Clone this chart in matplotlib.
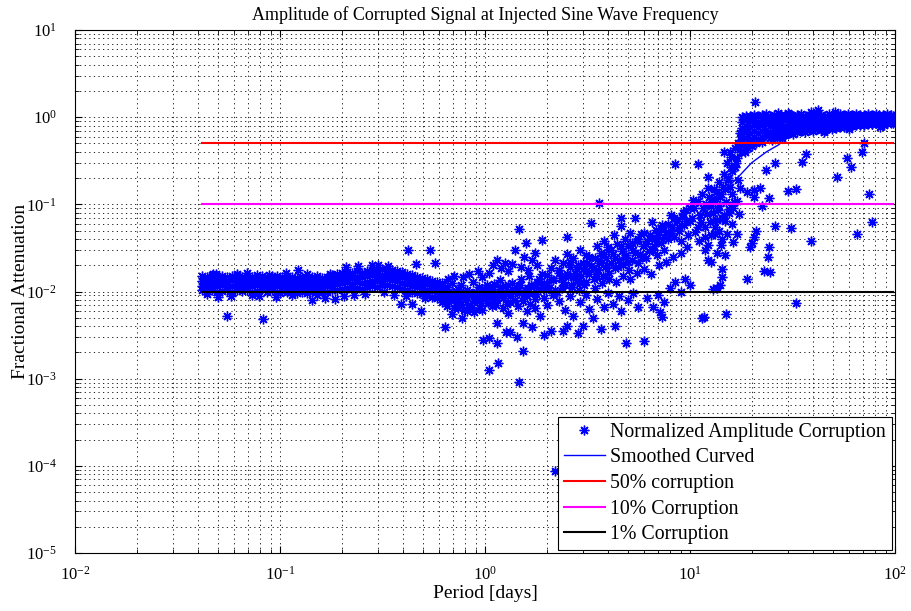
import numpy as np
import matplotlib
matplotlib.use('Agg')
import matplotlib.pyplot as plt

# ---- data ----
# dense low band (short periods), one period list with four amplitude rows
band_period = [0.0417, 0.0441, 0.0466, 0.0493, 0.0522, 0.0552, 0.0584, 0.0618, 0.0653, 0.0691,
               0.0731, 0.0773, 0.0818, 0.0865, 0.0915, 0.0968, 0.1024, 0.1083, 0.1146, 0.1212,
               0.1282, 0.1356, 0.1435, 0.1518, 0.1605, 0.1698, 0.1796, 0.1900, 0.2010, 0.2126,
               0.2249, 0.2379, 0.2517, 0.2662, 0.2816, 0.2979, 0.3151, 0.3333, 0.3526, 0.3730,
               0.3946, 0.4174, 0.4415, 0.4670, 0.4940, 0.5226, 0.5528, 0.5848, 0.6186]
band_low = [0.0103, 0.0101, 0.0104, 0.0100, 0.0102, 0.0105, 0.0099, 0.0103, 0.0101, 0.0104,
            0.0100, 0.0102, 0.0106, 0.0100, 0.0103, 0.0099, 0.0102, 0.0098, 0.0101, 0.0097,
            0.0100, 0.0096, 0.0099, 0.0102, 0.0098, 0.0100, 0.0103, 0.0105, 0.0107, 0.0110,
            0.0106, 0.0111, 0.0108, 0.0112, 0.0115, 0.0113, 0.0118, 0.0120, 0.0117, 0.0114,
            0.0108, 0.0103, 0.0100, 0.0097, 0.0094, 0.0090, 0.0086, 0.0084, 0.0082]
band_midlow = [0.0117, 0.0115, 0.0119, 0.0116, 0.0118, 0.0114, 0.0117, 0.0120, 0.0116, 0.0118,
               0.0115, 0.0119, 0.0117, 0.0114, 0.0118, 0.0116, 0.0113, 0.0112, 0.0115, 0.0111,
               0.0114, 0.0110, 0.0113, 0.0116, 0.0112, 0.0115, 0.0118, 0.0121, 0.0124, 0.0127,
               0.0123, 0.0129, 0.0126, 0.0130, 0.0133, 0.0131, 0.0136, 0.0138, 0.0135, 0.0132,
               0.0126, 0.0121, 0.0117, 0.0113, 0.0110, 0.0105, 0.0101, 0.0098, 0.0096]
band_midhigh = [0.0133, 0.0131, 0.0136, 0.0132, 0.0135, 0.0130, 0.0134, 0.0137, 0.0132, 0.0135,
                0.0131, 0.0136, 0.0133, 0.0130, 0.0134, 0.0132, 0.0129, 0.0127, 0.0130, 0.0126,
                0.0129, 0.0125, 0.0128, 0.0132, 0.0127, 0.0131, 0.0135, 0.0139, 0.0143, 0.0146,
                0.0142, 0.0148, 0.0145, 0.0150, 0.0153, 0.0150, 0.0156, 0.0158, 0.0155, 0.0151,
                0.0145, 0.0139, 0.0134, 0.0130, 0.0126, 0.0121, 0.0117, 0.0113, 0.0110]
band_high = [0.0150, 0.0147, 0.0153, 0.0149, 0.0152, 0.0146, 0.0151, 0.0155, 0.0148, 0.0152,
             0.0147, 0.0154, 0.0150, 0.0146, 0.0151, 0.0149, 0.0145, 0.0143, 0.0147, 0.0142,
             0.0146, 0.0141, 0.0145, 0.0149, 0.0144, 0.0148, 0.0153, 0.0158, 0.0163, 0.0167,
             0.0161, 0.0170, 0.0165, 0.0172, 0.0176, 0.0171, 0.0179, 0.0182, 0.0177, 0.0172,
             0.0166, 0.0159, 0.0153, 0.0148, 0.0143, 0.0138, 0.0133, 0.0129, 0.0125]

# outliers around the low band
edge_period = [0.0490, 0.0690, 0.1070, 0.1230, 0.0550, 0.0830, 0.0500, 0.0580, 0.0790, 0.0960,
               0.0440, 0.1430, 0.1520, 0.1650, 0.1850, 0.2050, 0.2100, 0.2400, 0.2800, 0.3000,
               0.3350, 0.4200, 0.5400, 0.3900, 0.4900, 0.4400, 0.3600, 0.2600, 0.4600, 0.5700,
               0.0620, 0.0880, 0.1350, 0.1750, 0.0730, 0.1150, 0.2300, 0.3200, 0.4100, 0.5100,
               0.1000, 0.0470]
edge_amp = [0.0160, 0.0164, 0.0164, 0.0177, 0.0053, 0.0049, 0.0086, 0.0088, 0.0089, 0.0087,
            0.0093, 0.0079, 0.0090, 0.0085, 0.0082, 0.0089, 0.0190, 0.0194, 0.0199, 0.0203,
            0.0196, 0.0300, 0.0300, 0.0072, 0.0059, 0.0071, 0.0090, 0.0094, 0.0205, 0.0215,
            0.0157, 0.0156, 0.0158, 0.0160, 0.0092, 0.0091, 0.0092, 0.0098, 0.0088, 0.0085,
            0.0095, 0.0157]

# scattered points, 0.6 - 2 days
mid1_period = [0.63, 0.63, 0.65, 0.66, 0.68, 0.69, 0.70, 0.72, 0.73, 0.75, 0.76, 0.78, 0.80, 0.82,
               0.83, 0.85, 0.87, 0.88, 0.90, 0.92, 0.94, 0.96, 0.98, 1.00, 1.02, 1.04, 1.06, 1.08,
               1.10, 1.12, 1.15, 1.18, 1.20, 1.22, 1.25, 1.28, 1.30, 1.33, 1.36, 1.40, 1.43, 1.46,
               1.50, 1.53, 1.57, 1.60, 1.64, 1.68, 1.72, 1.76, 1.80, 1.85,
               0.66, 0.71, 0.78, 0.84, 0.92, 0.97, 1.05, 1.10, 1.14, 1.20, 1.25, 1.30, 1.35, 1.40,
               1.46, 1.50, 1.55, 1.58, 1.62, 1.70, 1.75, 1.80, 1.90,
               0.64, 0.69, 0.74, 0.77, 0.82, 0.88, 0.95, 0.98, 1.05, 1.05, 1.14, 1.15, 1.16, 1.27,
               1.30, 1.33, 1.43, 1.46, 1.53, 1.53, 1.60, 1.70, 1.75, 1.85, 1.93]
mid1_amp = [0.0098, 0.0086, 0.0112, 0.0079, 0.0093, 0.0125, 0.0084, 0.0101, 0.0074, 0.0089,
            0.0118, 0.0096, 0.0081, 0.0105, 0.0070, 0.0090, 0.0128, 0.0078, 0.0099, 0.0086,
            0.0112, 0.0073, 0.0094, 0.0082, 0.0120, 0.0100, 0.0088, 0.0068, 0.0108, 0.0092,
            0.0079, 0.0134, 0.0097, 0.0085, 0.0115, 0.0072, 0.0102, 0.0089, 0.0125, 0.0080,
            0.0110, 0.0095, 0.0140, 0.0078, 0.0105, 0.0088, 0.0150, 0.0118, 0.0096, 0.0082,
            0.0130, 0.0106,
            0.0140, 0.0150, 0.0145, 0.0160, 0.0170, 0.0148, 0.0165, 0.0200, 0.0227, 0.0185,
            0.0215, 0.0170, 0.0205, 0.0300, 0.0515, 0.0190, 0.0250, 0.0360, 0.0175, 0.0230,
            0.0280, 0.0200, 0.0386,
            0.0039, 0.0055, 0.0064, 0.0050, 0.0060, 0.0058, 0.0065, 0.0028, 0.0029, 0.00127,
            0.0043, 0.0026, 0.0015, 0.0034, 0.0056, 0.0034, 0.0030, 0.00092, 0.0021, 0.0043,
            0.0060, 0.0039, 0.0065, 0.0052, 0.0032]
mid1b_period = [0.61, 0.62, 0.64, 0.65, 0.67, 0.68, 0.70, 0.71, 0.73, 0.74, 0.76, 0.77, 0.79, 0.81,
                0.84, 0.86, 0.89, 0.91, 0.93, 0.95, 0.97, 0.99, 1.01, 1.03, 1.07, 1.09, 1.11, 1.13,
                1.17, 1.19, 1.23, 1.26, 1.29, 1.32, 1.37, 1.41, 1.45, 1.49, 1.55, 1.62, 1.66, 1.74,
                1.78, 1.83]
mid1b_amp = [0.0092, 0.0075, 0.0104, 0.0068, 0.0088, 0.0079, 0.0096, 0.0065, 0.0083, 0.0107,
             0.0071, 0.0093, 0.0062, 0.0087, 0.0098, 0.0066, 0.0091, 0.0077, 0.0105, 0.0085,
             0.0061, 0.0108, 0.0090, 0.0074, 0.0097, 0.0083, 0.0122, 0.0070, 0.0088, 0.0112,
             0.0064, 0.0095, 0.0118, 0.0076, 0.0099, 0.0112, 0.0068, 0.0120, 0.0090, 0.0110,
             0.0072, 0.0115, 0.0093, 0.0138]

# scattered points, 2 - 10 days
mid2_period = [1.95, 2.0, 2.05, 2.1, 2.15, 2.2, 2.25, 2.3, 2.35, 2.4, 2.45, 2.5, 2.5, 2.55, 2.6,
               2.65, 2.7, 2.75, 2.8, 2.85, 2.9, 2.95, 3.0, 3.05, 3.1, 3.15, 3.2, 3.3, 3.3, 3.4,
               3.45, 3.5, 3.55, 3.6, 3.6, 3.7, 3.75, 3.8, 3.85, 3.9, 4.0, 4.05, 4.1, 4.2, 4.25,
               4.3, 4.4, 4.5, 4.6, 4.6, 4.65, 4.7, 4.8, 4.9, 5.0, 5.05, 5.1, 5.2, 5.3, 5.4,
               5.5, 5.6, 5.7, 5.8, 5.9, 6.0, 6.1, 6.2, 6.3, 6.5, 6.55, 6.7, 6.8, 6.9, 7.0,
               7.2, 7.3, 7.5, 7.6, 7.8, 8.1, 8.2, 8.4, 8.5, 8.6, 8.8, 9.0, 9.1, 9.3, 9.6,
               9.8, 10.0, 10.4,
               1.95, 2.0, 2.1, 2.15, 2.2, 2.3, 2.4, 2.45, 2.5, 2.6, 2.7, 2.85, 2.9, 3.0, 3.1,
               3.2, 3.35, 3.5, 3.7, 3.8, 4.0, 4.2, 4.3, 4.5, 4.6, 4.9, 5.0, 5.3, 5.6, 6.0,
               6.2, 6.6, 7.0, 7.14, 7.3, 7.5, 8.0, 8.5, 9.0, 9.5, 10.0]
mid2_amp = [0.0125, 0.0155, 0.0110, 0.0185, 0.0135, 0.0230, 0.0098, 0.0165, 0.0142, 0.0210,
            0.0120, 0.0270, 0.0420, 0.0150, 0.0190, 0.0112, 0.0240, 0.0165, 0.0135, 0.0200,
            0.0300, 0.0150, 0.0180, 0.0120, 0.0260, 0.0210, 0.0160, 0.0605, 0.0195, 0.0140,
            0.0240, 0.0330, 0.0175, 0.1030, 0.0215, 0.0280, 0.0150, 0.0380, 0.0190, 0.0240,
            0.0320, 0.0165, 0.0210, 0.0270, 0.0450, 0.0185, 0.0350, 0.0230, 0.0690, 0.0560,
            0.0290, 0.0200, 0.0400, 0.0260, 0.0330, 0.0175, 0.0470, 0.0230, 0.0300, 0.0690,
            0.0380, 0.0210, 0.0270, 0.0460, 0.0330, 0.0470, 0.0240, 0.0380, 0.0290, 0.0620,
            0.0410, 0.0330, 0.0510, 0.0260, 0.0440, 0.0360, 0.0580, 0.0300, 0.0480, 0.0400,
            0.0760, 0.0550, 0.0420, 0.2880, 0.0650, 0.0500, 0.0380, 0.0720, 0.0580, 0.0850,
            0.0450, 0.0650, 0.1110,
            0.0085, 0.0070, 0.0035, 0.0092, 0.000088, 0.0078, 0.0035, 0.0062, 0.0040, 0.0088,
            0.0052, 0.0033, 0.0075, 0.0040, 0.0090, 0.0063, 0.0050, 0.0082, 0.0037, 0.0067,
            0.0095, 0.0072, 0.0040, 0.0088, 0.0060, 0.0026, 0.0080, 0.0095, 0.0067, 0.0027,
            0.0085, 0.0067, 0.0092, 0.0058, 0.0051, 0.0075, 0.0110, 0.0130, 0.0098, 0.0140,
            0.0120]
mid2b_period = [1.9, 2.0, 2.1, 2.2, 2.3, 2.4, 2.5, 2.6, 2.7, 2.8, 2.9, 3.0, 3.1, 3.2, 3.35,
                3.5, 3.65, 3.8, 3.95, 4.1, 4.3, 4.45, 4.6, 4.8, 5.0, 5.2, 5.4, 5.6, 5.85, 6.1,
                6.35, 6.6, 6.9, 7.2, 7.5, 7.8, 8.1, 8.4, 8.8, 9.2, 9.6, 10.0,
                1.98, 2.18, 2.38, 2.62, 2.88, 3.12, 3.45, 3.72, 4.02, 4.38, 4.72, 5.12, 5.52,
                5.95, 6.45, 7.05, 7.65, 8.3, 9.0, 9.7]
mid2b_amp = [0.0160, 0.0120, 0.0140, 0.0105, 0.0175, 0.0130, 0.0160, 0.0220, 0.0145, 0.0180,
             0.0125, 0.0210, 0.0170, 0.0250, 0.0185, 0.0150, 0.0230, 0.0270, 0.0200, 0.0300,
             0.0240, 0.0190, 0.0330, 0.0250, 0.0220, 0.0360, 0.0280, 0.0400, 0.0250, 0.0350,
             0.0450, 0.0300, 0.0380, 0.0520, 0.0420, 0.0600, 0.0470, 0.0700, 0.0550, 0.0800,
             0.0650, 0.0900,
             0.0105, 0.0095, 0.0110, 0.0120, 0.0105, 0.0130, 0.0110, 0.0125, 0.0140, 0.0130,
             0.0150, 0.0140, 0.0165, 0.0180, 0.0160, 0.0200, 0.0220, 0.0250, 0.0280, 0.0320]

# scattered points, 10 - 18 days (transition)
mid3_period = [10.5, 10.9, 11.0, 11.2, 11.5, 11.5, 11.7, 11.8, 12.0, 12.2, 12.2, 12.3, 12.3, 12.5,
               12.6, 12.8, 13.0, 13.0, 13.2, 13.4, 13.5, 13.6, 13.6, 13.8, 14.0, 14.0, 14.2, 14.4,
               14.4, 14.4, 14.5, 14.6, 14.7, 14.8, 15.0, 15.0, 15.2, 15.3, 15.5, 15.6, 15.8, 16.0,
               16.0, 16.2, 16.4, 16.6, 16.8, 17.0, 17.1, 17.3, 17.5, 17.6, 17.8, 17.8, 18.0]
mid3_amp = [0.0900, 0.2880, 0.0550, 0.0750, 0.0050, 0.1300, 0.0051, 0.0420, 0.1000, 0.2050,
            0.1530, 0.0340, 0.0230, 0.0620, 0.0220, 0.1150, 0.0108, 0.0800, 0.0460, 0.1400,
            0.0660, 0.0280, 0.0110, 0.0950, 0.0120, 0.1200, 0.0340, 0.0180, 0.0400, 0.0145,
            0.1600, 0.0750, 0.4000, 0.0260, 0.0055, 0.1050, 0.0460, 0.1900, 0.0880, 0.4000,
            0.2700, 0.1300, 0.0600, 0.0370, 0.1050, 0.2700, 0.3000, 0.0460, 0.1900, 0.0770,
            0.1550, 0.6500, 0.4000, 0.5500, 0.7000]
mid3b_period = [10.2, 10.6, 11.0, 11.3, 11.6, 11.9, 12.1, 12.4, 12.7, 12.9, 13.1, 13.3, 13.7,
                13.9, 14.1, 14.3, 14.6, 14.9, 15.1, 15.4, 15.7, 15.9, 16.1, 16.5, 16.9, 17.2,
                17.4, 11.1, 11.9, 12.6, 13.2, 13.9, 14.8, 15.5, 16.3, 17.0]
mid3b_amp = [0.0700, 0.0480, 0.1100, 0.0620, 0.0900, 0.0550, 0.0780, 0.1200, 0.0950, 0.0650,
             0.1500, 0.1100, 0.0850, 0.1800, 0.1300, 0.0700, 0.2200, 0.1500, 0.3000, 0.2000,
             0.1600, 0.3500, 0.2400, 0.4400, 0.3400, 0.5000, 0.4500,
             0.0380, 0.0300, 0.0450, 0.0550, 0.0500, 0.0650, 0.0800, 0.0900, 0.1100]

# plateau near 1 (long periods), one period list with five amplitude rows
plateau_period = [18.0, 18.8, 19.6, 20.5, 21.4, 22.4, 23.4, 24.5, 25.6, 26.7, 27.9, 29.2, 30.5,
                  31.9, 33.3, 34.8, 36.4, 38.0, 39.7, 41.5, 43.4, 45.4, 47.4, 49.5, 51.8, 54.1,
                  56.5, 59.1, 61.7, 64.5, 67.4, 70.5, 73.6, 76.9, 80.4, 84.0, 87.8, 91.8, 95.9, 98.0]
plateau_r1 = [1.00, 1.04, 1.02, 1.06, 1.03, 1.05, 1.08, 1.04, 1.06, 1.02, 1.07, 1.05, 1.09, 1.04,
              1.06, 1.08, 1.03, 1.07, 1.05, 1.09, 1.06, 1.04, 1.08, 1.05, 1.07, 1.10, 1.06, 1.08,
              1.05, 1.09, 1.07, 1.05, 1.08, 1.06, 1.09, 1.07, 1.05, 1.08, 1.06, 1.04]
plateau_r2 = [0.88, 0.92, 0.90, 0.94, 0.89, 0.93, 0.95, 0.91, 0.94, 0.90, 0.95, 0.92, 0.96, 0.93,
              0.95, 0.97, 0.92, 0.96, 0.94, 0.97, 0.95, 0.93, 0.97, 0.95, 0.96, 0.98, 0.95, 0.97,
              0.94, 0.98, 0.96, 0.95, 0.97, 0.96, 0.98, 0.97, 0.95, 0.98, 0.97, 0.96]
plateau_r3 = [0.76, 0.80, 0.78, 0.82, 0.77, 0.81, 0.83, 0.79, 0.82, 0.78, 0.83, 0.80, 0.84, 0.81,
              0.83, 0.85, 0.82, 0.86, 0.84, 0.87, 0.85, 0.84, 0.88, 0.86, 0.87, 0.89, 0.87, 0.89,
              0.87, 0.90, 0.89, 0.88, 0.90, 0.89, 0.91, 0.90, 0.89, 0.91, 0.90, 0.90]
plateau_r4 = [0.64, 0.68, 0.66, 0.70, 0.65, 0.69, 0.72, 0.68, 0.71, 0.67, 0.72, 0.70, 0.74, 0.71,
              0.73, 0.75, 0.73, 0.77, 0.75, 0.78, 0.77, 0.76, 0.80, 0.78, 0.80, 0.82, 0.81, 0.83,
              0.81, 0.84, 0.83, 0.83, 0.85, 0.84, 0.86, 0.86, 0.85, 0.87, 0.87, 0.87]
plateau_r5 = [0.54, 0.57, 0.55, 0.60, 0.56, 0.59, 0.62, 0.58, 0.61, 0.58, 0.63, 0.62, 0.66, 0.64,
              0.67, 0.69, 0.68, 0.71, 0.70, 0.73, 0.72, 0.72, 0.75, 0.74, 0.76, 0.78, 0.78, 0.80,
              0.79, 0.82, 0.81, 0.81, 0.83, 0.83, 0.85, 0.85, 0.84, 0.86, 0.86, 0.86]

# outliers around the plateau
high_period = [20.7, 39, 51, 85, 71, 69, 58.6, 61, 52, 75, 77, 65, 39, 33, 37, 35, 33, 30, 31, 26,
               26, 23.6, 24.4, 22, 20.5, 20.5, 22.5, 19, 21, 20.5, 20, 19.7, 24.4, 24, 24.5, 23,
               19, 19.2, 19.5, 20.0, 21.0, 22.5, 25, 28, 18.5, 18.2, 45, 60, 88, 95, 42, 25.5,
               27, 30]
high_amp = [1.49, 1.14, 1.14, 0.77, 0.50, 0.40, 0.34, 0.27, 0.205, 0.13, 0.062, 0.046, 0.0375,
            0.0073, 0.375, 0.31, 0.149, 0.141, 0.054, 0.056, 0.296, 0.246, 0.117, 0.153, 0.145,
            0.12, 0.095, 0.138, 0.05, 0.042, 0.036, 0.032, 0.032, 0.025, 0.0166, 0.017, 0.014,
            0.44, 0.52, 0.47, 0.50, 0.52, 0.55, 0.58, 0.40, 0.48, 0.68, 0.74, 0.82, 0.88, 1.2,
            0.60, 1.12, 1.13]

# smoothed curve
smooth_period = [0.0417, 0.07, 0.1, 0.15, 0.2, 0.3, 0.4, 0.5, 0.7, 1.0, 1.5, 2.4, 3.5, 4.5, 5.7,
                 7.0, 8.9, 10.5, 12.2, 14.5, 17, 20, 23.6, 27, 30, 35, 45, 60, 80, 98]
smooth_amp = [0.0118, 0.0122, 0.0123, 0.0121, 0.0125, 0.0132, 0.0128, 0.0118, 0.0105, 0.0098,
              0.0108, 0.0134, 0.017, 0.020, 0.025, 0.034, 0.055, 0.072, 0.093, 0.14, 0.2, 0.3,
              0.4, 0.48, 0.59, 0.72, 0.85, 0.9, 0.93, 0.95]

# reference levels
level_period = [0.0417, 98.0]
level_50 = 0.5
level_10 = 0.1
level_1 = 0.01

plt.rcParams['font.family'] = ['Liberation Serif', 'DejaVu Serif']
plt.rcParams['mathtext.fontset'] = 'custom'
plt.rcParams['mathtext.rm'] = 'Liberation Serif'
plt.rcParams['mathtext.it'] = 'Liberation Serif:italic'

all_period = np.concatenate([band_period * 4, edge_period, mid1_period, mid1b_period,
                             mid2_period, mid2b_period, mid3_period, mid3b_period,
                             plateau_period * 5, high_period])
all_amp = np.concatenate([band_low, band_midlow, band_midhigh, band_high, edge_amp,
                          mid1_amp, mid1b_amp, mid2_amp, mid2b_amp, mid3_amp, mid3b_amp,
                          plateau_r1, plateau_r2, plateau_r3, plateau_r4, plateau_r5, high_amp])

fig = plt.figure(figsize=(9.11, 6.11), dpi=100)
ax = fig.add_axes([0.0823, 0.0949, 0.9001, 0.856])

ax.loglog(all_period, all_amp, linestyle='none', marker=(8, 2, 0), markersize=7,
          markeredgewidth=1.0, color='blue', label='Normalized Amplitude Corruption')
ax.loglog(smooth_period, smooth_amp, color='blue', lw=1.0, label='Smoothed Curved')
ax.loglog(level_period, [level_50, level_50], color='red', lw=1.5, label='50% corruption')
ax.loglog(level_period, [level_10, level_10], color='magenta', lw=1.5, label='10% Corruption')
ax.loglog(level_period, [level_1, level_1], color='black', lw=1.5, label='1% Corruption')

ax.set_xlim(1e-2, 1e2)
ax.set_ylim(1e-5, 1e1)
ax.grid(True, which='both', color='black', linestyle=(0, (1.5, 4)), linewidth=0.6)
ax.tick_params(which='both', direction='in', top=True, right=True, labelsize=12)
ax.tick_params(which='major', length=5)
ax.tick_params(which='minor', length=3)
ax.tick_params(axis='x', which='both', pad=9)
ax.tick_params(axis='y', which='both', pad=13)
for s in ax.spines.values():
    s.set_linewidth(0.8)

ax.set_title('Amplitude of Corrupted Signal at Injected Sine Wave Frequency', fontsize=13, pad=7)
ax.set_xlabel('Period [days]', fontsize=14, labelpad=1)
ax.set_ylabel('Fractional Attenuation', fontsize=14, labelpad=-2)

leg = ax.legend(loc='lower right', numpoints=1, fontsize=14.3, fancybox=False, framealpha=1,
                edgecolor='black', borderaxespad=0.15, handlelength=2.1, handletextpad=0.25,
                labelspacing=0.33, borderpad=0.3)
leg.get_frame().set_linewidth(0.8)

fig.savefig('out.png', dpi=100)
